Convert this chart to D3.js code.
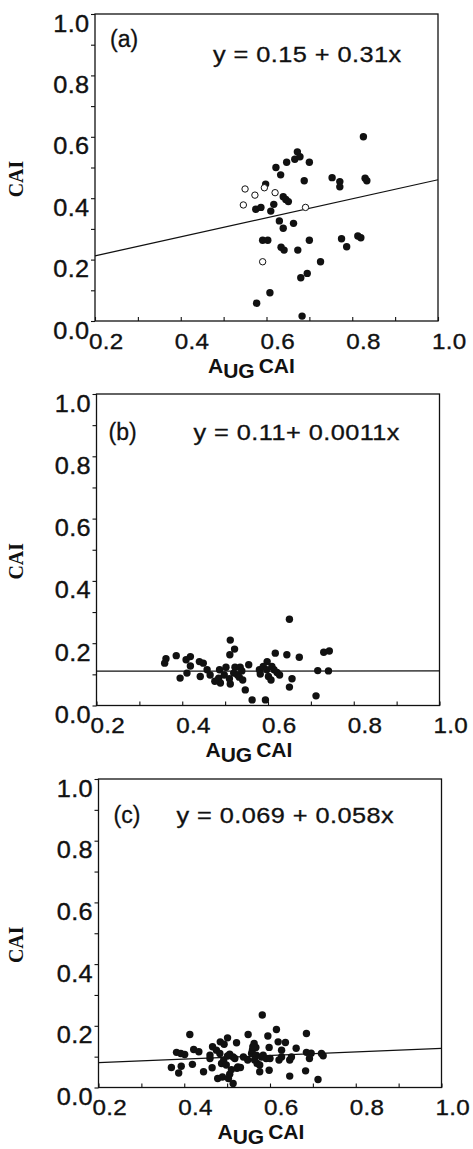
<!DOCTYPE html>
<html>
<head>
<meta charset="utf-8">
<script src="https://cdn.jsdelivr.net/npm/d3@7"></script>
<style>
  html, body { margin: 0; padding: 0; background: #fff; }
  svg { display: block; }
  .tick text { font-family: "Liberation Sans", Arial, sans-serif; fill: #111; }
</style>
</head>
<body>
<svg id="chart" width="473" height="1149"></svg>
<script>
// ---- data ----
var xTicks = [0.2, 0.4, 0.6, 0.8, 1.0];
var yTicks = [0.0, 0.2, 0.4, 0.6, 0.8, 1.0];
var minorX = [0.3, 0.5, 0.7, 0.9];
var minorY = [0.1, 0.3, 0.5, 0.7, 0.9];

// panel (a): filled and open symbols
var aFilledX = [0.826,0.622,0.647,0.672,0.666,0.678,0.700,0.633,0.688,0.753,0.771,0.771,0.830,0.834,0.598,
                0.639,0.645,0.651,0.575,0.587,0.610,0.617,0.630,0.639,0.663,0.591,0.603,0.634,0.641,0.673,
                0.700,0.726,0.775,0.787,0.813,0.820,0.680,0.695,0.608,0.577,0.683];
var aFilledY = [0.600,0.500,0.517,0.551,0.527,0.535,0.517,0.476,0.457,0.467,0.454,0.437,0.465,0.457,0.446,
                0.405,0.396,0.389,0.364,0.370,0.358,0.380,0.326,0.302,0.318,0.263,0.263,0.240,0.231,0.231,
                0.263,0.193,0.268,0.242,0.277,0.271,0.141,0.155,0.092,0.058,0.016];
var aOpenX = [0.550,0.573,0.595,0.620,0.546,0.691,0.591];
var aOpenY = [0.430,0.410,0.434,0.418,0.378,0.370,0.193];

// panel (b)
var bX = [0.650,0.512,0.522,0.511,0.386,0.362,0.359,0.419,0.409,0.419,0.440,0.449,0.395,0.411,0.442,
          0.458,0.465,0.555,0.547,0.563,0.594,0.617,0.644,0.673,0.598,0.656,0.650,0.712,0.716,0.741,
          0.730,0.743,0.487,0.485,0.489,0.498,0.502,0.510,0.512,0.520,0.523,0.529,0.533,0.535,0.539,
          0.541,0.580,0.582,0.589,0.597,0.601,0.607,0.609,0.614,0.621,0.627,0.476];
var bY = [0.277,0.210,0.181,0.163,0.160,0.150,0.136,0.157,0.147,0.127,0.141,0.136,0.088,0.104,0.093,
          0.115,0.098,0.131,0.050,0.018,0.018,0.168,0.163,0.155,0.141,0.086,0.059,0.031,0.112,0.111,
          0.171,0.175,0.115,0.088,0.072,0.098,0.123,0.086,0.069,0.104,0.123,0.098,0.091,0.123,0.111,
          0.082,0.115,0.101,0.125,0.115,0.093,0.082,0.125,0.115,0.106,0.098,0.078];

// panel (c)
var cX = [0.582,0.413,0.549,0.615,0.685,0.501,0.484,0.493,0.466,0.522,0.563,0.567,0.595,0.598,0.619,
          0.636,0.627,0.661,0.422,0.434,0.382,0.392,0.401,0.685,0.696,0.720,0.724,0.692,0.370,0.393,
          0.387,0.419,0.445,0.460,0.460,0.465,0.475,0.483,0.487,0.492,0.501,0.506,0.514,0.518,0.478,
          0.489,0.503,0.506,0.514,0.523,0.525,0.531,0.510,0.498,0.538,0.548,0.557,0.559,0.560,0.568,
          0.564,0.570,0.580,0.576,0.584,0.591,0.576,0.598,0.600,0.621,0.627,0.646,0.650,0.646,0.683,
          0.712];
var cY = [0.235,0.172,0.172,0.188,0.175,0.161,0.148,0.140,0.132,0.145,0.143,0.130,0.167,0.130,0.148,
          0.146,0.121,0.127,0.123,0.116,0.114,0.110,0.107,0.114,0.111,0.110,0.103,0.094,0.065,0.069,
          0.047,0.075,0.051,0.105,0.094,0.064,0.121,0.110,0.078,0.089,0.102,0.108,0.099,0.094,0.029,
          0.034,0.029,0.043,0.013,0.062,0.067,0.065,0.058,0.073,0.099,0.089,0.110,0.121,0.132,0.105,
          0.089,0.078,0.099,0.073,0.105,0.094,0.051,0.056,0.094,0.089,0.099,0.089,0.099,0.037,0.054,
          0.026];

// regression: intercept, slope
var fitA = [0.15, 0.31];
var fitB = [0.11, 0.0011];
var fitC = [0.069, 0.058];

var labels = ["(a)", "(b)", "(c)"];
var equations = ["y = 0.15 + 0.31x", "y = 0.11+ 0.0011x", "y = 0.069 + 0.058x"];

// ---- layout ----
var panels = [
  { left: 95,   top: 14,  w: 343, h: 307, fx: aFilledX, fy: aFilledY, ox: aOpenX, oy: aOpenY, fit: fitA,
    labDx: 15, labDy: 33, eqDx: 118, eqDy: 48, titleDx: 113, titleDy: 52 },
  { left: 96.5, top: 394, w: 343, h: 311.5, fx: bX, fy: bY, ox: [], oy: [], fit: fitB,
    labDx: 12, labDy: 46, eqDx: 97, eqDy: 46, titleDx: 109, titleDy: 51 },
  { left: 98.5, top: 779, w: 343, h: 308.5, fx: cX, fy: cY, ox: [], oy: [], fit: fitC,
    labDx: 15, labDy: 44, eqDx: 78, eqDy: 44, titleDx: 119, titleDy: 51.5 }
];

var svg = d3.select("#chart");
var ink = "#111";
var sans = "'Liberation Sans', Arial, Helvetica, sans-serif";

// the scanned lettering is a bit wider and heavier than Arial
function heavy(sel, w) {
  sel.attr("stroke", ink).attr("stroke-width", w || 0.35).attr("paint-order", "stroke");
}

panels.forEach(function (p, i) {
  var x = d3.scaleLinear().domain([0.2, 1.0]).range([0, p.w]);
  var y = d3.scaleLinear().domain([0, 1.0]).range([p.h, 0]);
  var g = svg.append("g").attr("transform", "translate(" + p.left + "," + p.top + ")");

  // minor ticks (no labels)
  g.append("g").call(d3.axisLeft(y).tickValues(minorY).tickSize(4).tickFormat(""))
    .call(function (a) { a.select(".domain").remove(); });
  g.append("g").attr("transform", "translate(0," + p.h + ")")
    .call(d3.axisBottom(x).tickValues(minorX).tickSize(-4).tickFormat(""))
    .call(function (a) { a.select(".domain").remove(); });

  // major y axis
  var ya = g.append("g").call(d3.axisLeft(y).tickValues(yTicks).tickSize(4).tickFormat(d3.format(".1f")));
  ya.select(".domain").remove();
  ya.selectAll("text")
    .attr("x", -5).attr("dy", "0.74em").attr("transform", "scale(1.1,1)")
    .style("font-size", "23px").style("letter-spacing", "0.3px")
    .call(heavy);

  // major x axis
  var xa = g.append("g").attr("transform", "translate(0," + p.h + ")")
    .call(d3.axisBottom(x).tickValues(xTicks).tickSize(-4).tickFormat(d3.format(".1f")));
  xa.select(".domain").remove();
  xa.selectAll("text")
    .attr("text-anchor", "start").attr("x", -6).attr("y", 12).attr("dy", "0.71em")
    .attr("transform", "scale(1.1,1)")
    .style("font-size", "22px").style("letter-spacing", "0.3px")
    .call(heavy);

  g.selectAll(".tick line").attr("stroke", ink).attr("stroke-width", 1.1);

  // frame
  g.append("rect").attr("width", p.w).attr("height", p.h)
    .attr("fill", "none").attr("stroke", ink).attr("stroke-width", 1.3);

  // regression line
  g.append("line")
    .attr("x1", x(0.2)).attr("y1", y(p.fit[0] + p.fit[1] * 0.2))
    .attr("x2", x(1.0)).attr("y2", y(p.fit[0] + p.fit[1] * 1.0))
    .attr("stroke", ink).attr("stroke-width", 1.2);

  // points
  g.append("g").selectAll("circle").data(d3.range(p.fx.length)).enter().append("circle")
    .attr("cx", function (k) { return x(p.fx[k]); })
    .attr("cy", function (k) { return y(p.fy[k]); })
    .attr("r", 3.7).attr("fill", ink);
  g.append("g").selectAll("circle").data(d3.range(p.ox.length)).enter().append("circle")
    .attr("cx", function (k) { return x(p.ox[k]); })
    .attr("cy", function (k) { return y(p.oy[k]); })
    .attr("r", 3.2).attr("fill", "#fff").attr("stroke", ink).attr("stroke-width", 1);

  // panel letter and equation
  g.append("text").attr("x", p.labDx).attr("y", p.labDy)
    .style("font-family", sans).style("font-size", "23px").attr("fill", ink)
    .text(labels[i]).call(heavy, 0.3);
  g.append("text")
    .attr("transform", "translate(" + p.eqDx + "," + p.eqDy + ") scale(1.15,1)")
    .style("font-family", sans).style("font-size", "22px").style("letter-spacing", "0.4px")
    .attr("fill", ink).text(equations[i]).call(heavy, 0.3);

  // x title: A_UG CAI
  var t = g.append("text").attr("x", p.titleDx).attr("y", p.h + p.titleDy)
    .style("font-family", sans).style("font-size", "21px").style("font-weight", "bold").attr("fill", ink);
  t.append("tspan").text("A");
  t.append("tspan").attr("dy", 5).text("UG");
  t.append("tspan").attr("dy", -5).attr("dx", 4).text("CAI");

  // y title
  g.append("text")
    .attr("transform", "translate(" + (23 - p.left) + "," + (p.h / 2 + 11.5) + ") rotate(-90)")
    .attr("text-anchor", "middle")
    .style("font-family", "'Liberation Serif', 'Times New Roman', serif")
    .style("font-size", "20px").style("font-weight", "bold").attr("fill", ink)
    .text("CAI");
});
</script>
</body>
</html>
